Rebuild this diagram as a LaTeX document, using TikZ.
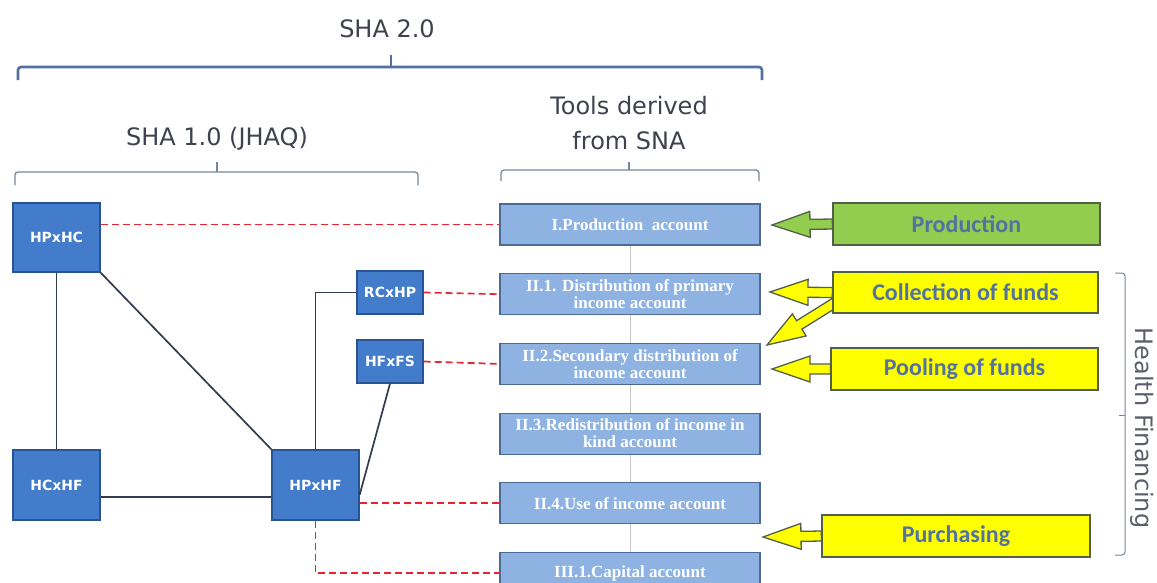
\documentclass[tikz,border=0pt]{standalone}
\usepackage{fontspec}
\setmainfont{DejaVu Sans}
\newfontfamily\acctfont{Liberation Serif}
\newfontfamily\funcfont{Carlito}
\usetikzlibrary{calc,positioning,backgrounds}

\definecolor{titlegray}{RGB}{62,66,78}
\definecolor{bracebl}{RGB}{84,112,160}
\definecolor{bracegr}{RGB}{118,134,156}
\definecolor{tabfill}{RGB}{66,124,202}
\definecolor{tabline}{RGB}{40,84,148}
\definecolor{acctfill}{RGB}{142,179,226}
\definecolor{acctline}{RGB}{76,106,150}
\definecolor{prodgreen}{RGB}{146,205,80}
\definecolor{funcyellow}{RGB}{255,255,0}
\definecolor{funcline}{RGB}{82,96,72}
\definecolor{functext}{RGB}{82,114,162}
\definecolor{dashred}{RGB}{232,36,50}
\definecolor{linkgray}{RGB}{50,60,78}

\tikzset{
  title/.style={text=titlegray, font=\fontsize{24}{35}\selectfont, align=center},
  tabbox/.style={draw=tabline, fill=tabfill, line width=1.2pt, text=white,
    font=\bfseries\fontsize{14}{16}\selectfont, inner sep=0pt},
  acctbox/.style={draw=acctline, fill=acctfill, line width=1.2pt,
    minimum width=260pt, minimum height=41pt, inner sep=0pt, align=center,
    text=white, font=\acctfont\bfseries\fontsize{17}{17}\selectfont},
  funcbox/.style={draw=funcline, line width=1.2pt, minimum height=42pt,
    inner sep=0pt, text=functext, font=\funcfont\bfseries\fontsize{24}{26}\selectfont},
  link/.style={draw=linkgray, line width=1.7pt},
  maplink/.style={draw=dashred, line width=1.7pt, dash pattern=on 7pt off 4pt},
  bracket/.style={line width=1.3pt, rounded corners=3pt},
  blockarrow/.style={draw=funcline, line width=1.3pt, line join=miter,
    to path={
      let \p1=(\tikztostart), \p2=(\tikztotarget),
          \n1={atan2(\y2-\y1,\x2-\x1)} in
      ($(\p1)+(\n1+90:5pt)$) -- ($(\p2)+(\n1:-38pt)+(\n1+90:5pt)$)
      -- ($(\p2)+(\n1:-38pt)+(\n1+90:13pt)$) -- (\p2)
      -- ($(\p2)+(\n1:-38pt)+(\n1-90:13pt)$) -- ($(\p2)+(\n1:-38pt)+(\n1-90:5pt)$)
      -- ($(\p1)+(\n1-90:5pt)$) -- cycle}},
}

\begin{document}
\begin{tikzpicture}[x=1pt,y=-1pt,node distance=27.5pt]
  \useasboundingbox (0,0) rectangle (1157,582);

  % headings and brackets
  \node[title] (sha2) at (387,29) {SHA 2.0};
  \node[title] (sha1) at (217,139) {SHA 1.0 (JHAQ)};
  \node[title] (sna) at (629,123) {Tools derived\\from SNA};
  \node[title, rotate=-90, text=titlegray!85] (hfin) at (1142,428) {Health Financing};

  \draw[bracket, bracebl, line width=2.6pt] (18,80) -- (18,67) -- (762,67) -- (762,80);
  \draw[bracebl, line width=1.6pt] (391,67) -- (391,55);
  \draw[bracket, bracegr] (15,185) -- (15,172) -- (418,172) -- (418,185);
  \draw[bracegr, line width=1.1pt] (217,172) -- (217,162);
  \draw[bracket, bracegr] (501,181) -- (501,170) -- (759,170) -- (759,181);
  \draw[bracegr, line width=1.1pt] (629,170) -- (629,162);
  \draw[bracket, bracegr, line width=1pt] (1115,273) -- (1125,273) -- (1125,555) -- (1115,555);
  \draw[bracegr, line width=1pt] (1125,415) -- (1119,415);

  % SHA 1.0 tables
  \node[tabbox, minimum width=87pt, minimum height=69pt] (hphc) at (56.5,237.5) {HPxHC};
  \node[tabbox, minimum width=87pt, minimum height=70pt] (hchf) at (56.5,485) {HCxHF};
  \node[tabbox, minimum width=87pt, minimum height=70pt] (hphf) at (315.5,485) {HPxHF};
  \node[tabbox, minimum width=66pt, minimum height=43pt] (rchp) at (390,292.5) {RCxHP};
  \node[tabbox, minimum width=66pt, minimum height=43pt] (hffs) at (390,361.5) {HFxFS};

  % SNA accounts
  \node[acctbox] (prod) at (630,224.5) {I.Production\ \ account};
  \node[acctbox, below=of prod] (dist1) {II.1. Distribution of primary\\income account};
  \node[acctbox, below=of dist1] (dist2) {II.2.Secondary distribution of\\income account};
  \node[acctbox, below=of dist2] (redist) {II.3.Redistribution of income in\\kind account};
  \node[acctbox, below=of redist] (use) {II.4.Use of income account};
  \node[acctbox, below=of use] (capital) {III.1.Capital account};

  % health system functions
  \node[funcbox, fill=prodgreen, minimum width=267pt] (production) at (966.5,224) {Production};
  \node[funcbox, fill=funcyellow, minimum width=265pt, minimum height=41pt] (collection) at (965.5,292.5) {Collection of funds};
  \node[funcbox, fill=funcyellow, minimum width=267pt] (pooling) at (964.5,369) {Pooling of funds};
  \node[funcbox, fill=funcyellow, minimum width=268pt] (purchasing) at (956,536) {Purchasing};

  \coordinate (prodtip) at (772,225);
  \coordinate (colltip) at (770,292);
  \coordinate (colldiag) at (767,345);
  \coordinate (pooltip) at (772,369);
  \coordinate (purchtip) at (763,537);

  \begin{scope}[on background layer]
    \draw[gray!45, line width=0.9pt] (prod.south) -- (capital.north);
    \draw[blockarrow, fill=prodgreen] (production.west) to (prodtip);
    \draw[blockarrow, fill=funcyellow] (collection.west) to (colltip);
    \draw[blockarrow, fill=funcyellow] ([xshift=6pt,yshift=-8pt]collection.west) to (colldiag);
    \draw[blockarrow, fill=funcyellow] (pooling.west) to (pooltip);
    \draw[blockarrow, fill=funcyellow] (purchasing.west) to (purchtip);
  \end{scope}

  \draw[link] (hphc.south) -- (hchf.north);
  \draw[link] (hphc.south east) -- (hphf.north west);
  \draw[link] ([yshift=-12pt]hchf.east) -- ([yshift=-12pt]hphf.west);
  \draw[link] (hphf.north) |- (rchp.west);
  \draw[link] (hffs.south) -- ([yshift=-10pt]hphf.east);

  \draw[maplink] (prod.west -| hphc.east) -- (prod.west);
  \draw[maplink] (rchp.east) -- (dist1.west);
  \draw[maplink] (hffs.east) -- (dist2.west);
  \draw[maplink] (use.west -| hphf.east) -- (use.west);
  \draw[maplink] (hphf.south) |- (capital.west);
\end{tikzpicture}
\end{document}
